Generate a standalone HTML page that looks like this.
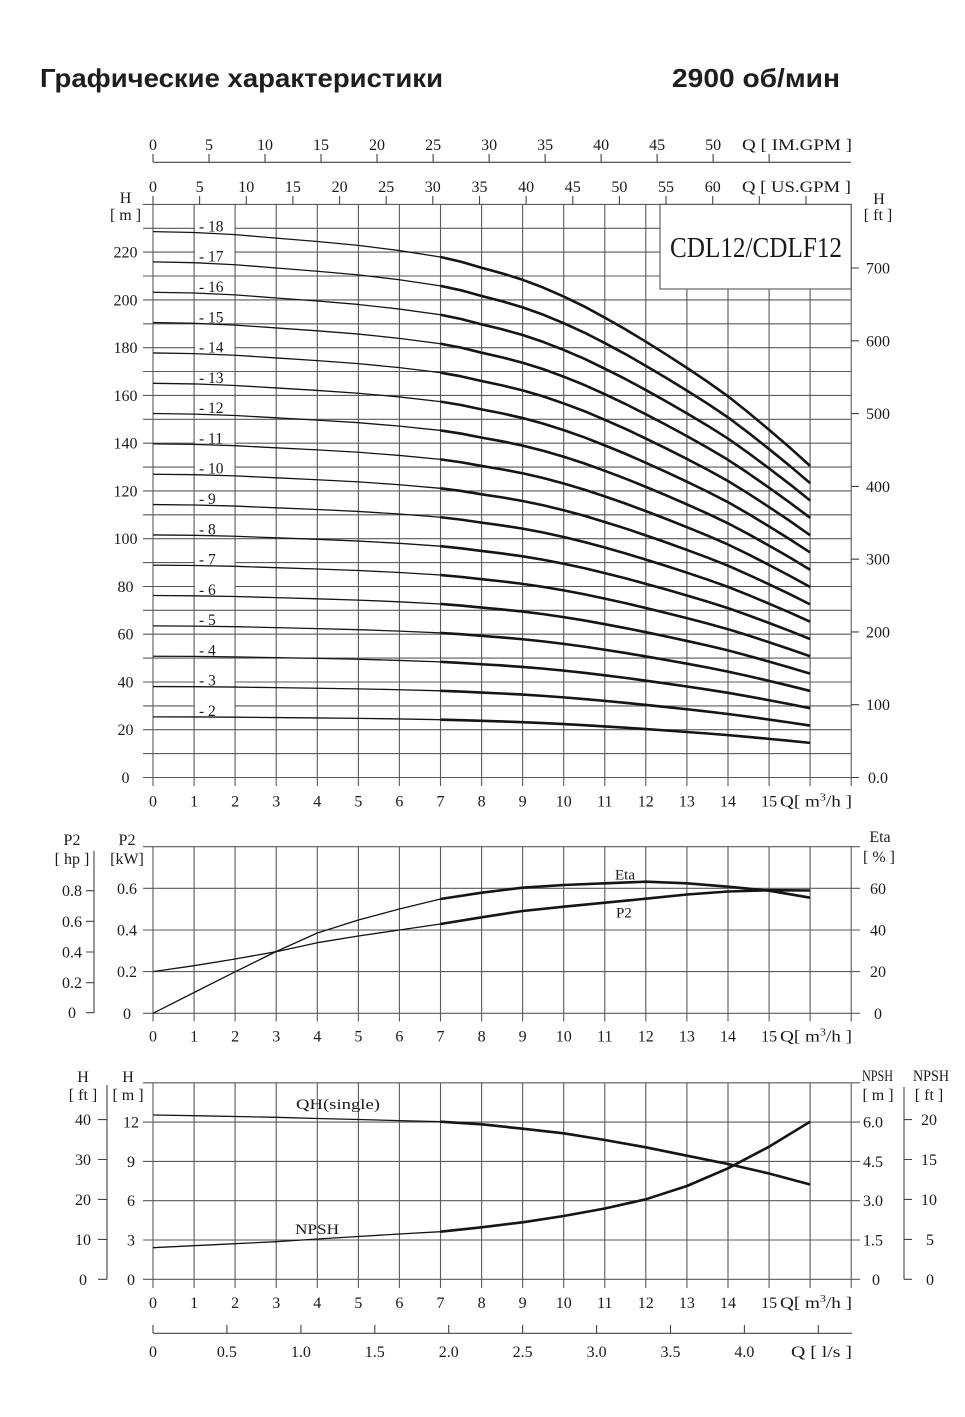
<!DOCTYPE html>
<html><head><meta charset="utf-8"><style>
html,body{margin:0;padding:0;background:#fff;}
svg{display:block;}
.t{font-family:"Liberation Serif","DejaVu Serif",serif;font-size:16px;fill:#1a1a1a;}
.c{text-anchor:middle;}
.e{text-anchor:end;}
.g{stroke:#5a5a5a;stroke-width:1.1;fill:none;}
.a{stroke:#444;stroke-width:1.1;fill:none;}
.thin{stroke:#151515;stroke-width:1.3;fill:none;stroke-linejoin:round;}
.thick{stroke:#151515;stroke-width:2.6;fill:none;stroke-linejoin:round;stroke-linecap:butt;}
.ttl{font-family:"Liberation Sans","DejaVu Sans",sans-serif;font-weight:bold;font-size:26px;fill:#1e1e1e;}
.sl{font-family:"Liberation Serif","DejaVu Serif",serif;font-size:15.5px;fill:#1a1a1a;}
</style></head><body>
<svg width="965" height="1417" viewBox="0 0 965 1417" xmlns="http://www.w3.org/2000/svg">
<rect width="965" height="1417" fill="#fff"/>
<text class="ttl" x="40" y="87" textLength="403" lengthAdjust="spacingAndGlyphs">Графические характеристики</text>
<text class="ttl" x="672" y="87" textLength="168" lengthAdjust="spacingAndGlyphs">2900 об/мин</text>

<!-- TOP AXES -->
<path class="a" d="M153 162.3H851M153 162.3V154M209 162.3V154M265 162.3V154M321 162.3V154M377 162.3V154M433.1 162.3V154M489.1 162.3V154M545.1 162.3V154M601.1 162.3V154M657.1 162.3V154M713.1 162.3V154M769.1 162.3V154"/>
<g class="t c">
<text x="153" y="150">0</text><text x="209" y="150">5</text><text x="265" y="150">10</text><text x="321" y="150">15</text><text x="377" y="150">20</text><text x="433.1" y="150">25</text><text x="489.1" y="150">30</text><text x="545.1" y="150">35</text><text x="601.1" y="150">40</text><text x="657.1" y="150">45</text><text x="713.1" y="150">50</text>
</g>
<text class="t" x="742" y="150" textLength="110" lengthAdjust="spacingAndGlyphs">Q [ IM.GPM ]</text>
<path class="a" d="M153 204.4V196M199.6 204.4V196M246.3 204.4V196M292.9 204.4V196M339.6 204.4V196M386.2 204.4V196M432.8 204.4V196M479.5 204.4V196M526.1 204.4V196M572.8 204.4V196M619.4 204.4V196M666 204.4V196M712.7 204.4V196M759.3 204.4V196M806 204.4V196"/>
<g class="t c">
<text x="153" y="192">0</text><text x="199.6" y="192">5</text><text x="246.3" y="192">10</text><text x="292.9" y="192">15</text><text x="339.6" y="192">20</text><text x="386.2" y="192">25</text><text x="432.8" y="192">30</text><text x="479.5" y="192">35</text><text x="526.1" y="192">40</text><text x="572.8" y="192">45</text><text x="619.4" y="192">50</text><text x="666" y="192">55</text><text x="712.7" y="192">60</text>
</g>
<text class="t" x="742" y="192" textLength="109" lengthAdjust="spacingAndGlyphs">Q [ US.GPM ]</text>

<!-- MAIN CHART GRID -->
<path class="g" d="M143 777.5H851M143 753.6H851M143 729.7H851M143 705.9H851M143 682H851M143 658.1H851M143 634.2H851M143 610.3H851M143 586.5H851M143 562.6H851M143 538.7H851M143 514.8H851M143 490.9H851M143 467.1H851M143 443.2H851M143 419.3H851M143 395.4H851M143 371.5H851M143 347.7H851M143 323.8H851M143 299.9H851M143 276H851M143 252.1H851M143 228.3H851M143 204.4H851"/>
<path class="g" d="M153 204.4V786M194.1 204.4V786M235.1 204.4V786M276.2 204.4V786M317.3 204.4V786M358.4 204.4V786M399.4 204.4V786M440.5 204.4V786M481.6 204.4V786M522.6 204.4V786M563.7 204.4V786M604.8 204.4V786M645.8 204.4V786M686.9 204.4V786M728 204.4V786M769.1 204.4V786M810.1 204.4V786M851.2 204.4V786"/>
<rect x="660" y="204.4" width="191.2" height="84.6" fill="#fff" stroke="#555" stroke-width="1.1"/>
<text x="756" y="257" font-family="Liberation Serif, serif" font-size="29" fill="#1a1a1a" text-anchor="middle" textLength="172" lengthAdjust="spacingAndGlyphs">CDL12/CDLF12</text>

<!-- right ft ticks -->
<path class="a" d="M851 777.5H859M851 704.7H859M851 631.9H859M851 559.2H859M851 486.4H859M851 413.6H859M851 340.8H859M851 268H859"/>
<g class="t c">
<text x="878" y="783">0.0</text><text x="878" y="710.2">100</text><text x="878" y="637.4">200</text><text x="878" y="564.7">300</text><text x="878" y="491.9">400</text><text x="878" y="419.1">500</text><text x="878" y="346.3">600</text><text x="878" y="273.5">700</text>
<text x="879" y="204">H</text><text x="878" y="220">[ ft ]</text>
<text x="125.5" y="203">H</text><text x="125.5" y="220">[ m ]</text>
<text x="125.5" y="783">0</text><text x="125.5" y="735.2">20</text><text x="125.5" y="687.5">40</text><text x="125.5" y="639.7">60</text><text x="125.5" y="592">80</text><text x="125.5" y="544.2">100</text><text x="125.5" y="496.4">120</text><text x="125.5" y="448.7">140</text><text x="125.5" y="400.9">160</text><text x="125.5" y="353.2">180</text><text x="125.5" y="305.4">200</text><text x="125.5" y="257.6">220</text>
</g>
<!-- x labels main -->
<g class="t c">
<text x="153" y="806.5">0</text><text x="194.1" y="806.5">1</text><text x="235.1" y="806.5">2</text><text x="276.2" y="806.5">3</text><text x="317.3" y="806.5">4</text><text x="358.4" y="806.5">5</text><text x="399.4" y="806.5">6</text><text x="440.5" y="806.5">7</text><text x="481.6" y="806.5">8</text><text x="522.6" y="806.5">9</text><text x="563.7" y="806.5">10</text><text x="604.8" y="806.5">11</text><text x="645.8" y="806.5">12</text><text x="686.9" y="806.5">13</text><text x="728" y="806.5">14</text><text x="769.1" y="806.5">15</text>
</g>
<text class="t" x="780" y="806.5" textLength="72" lengthAdjust="spacingAndGlyphs">Q[ m<tspan font-size="10" dy="-6">3</tspan><tspan dy="6">/h ]</tspan></text>

<!-- stage labels -->
<g fill="#fff">
<rect x="195" y="220.5" width="39.5" height="11"/><rect x="195" y="250.7" width="39.5" height="11"/><rect x="195" y="281" width="39.5" height="11"/><rect x="195" y="311.3" width="39.5" height="11"/><rect x="195" y="341.6" width="39.5" height="11"/><rect x="195" y="371.9" width="39.5" height="11"/><rect x="195" y="402.1" width="39.5" height="11"/><rect x="195" y="432.4" width="39.5" height="11"/><rect x="195" y="462.7" width="39.5" height="11"/><rect x="195" y="493" width="39.5" height="11"/><rect x="195" y="523.3" width="39.5" height="11"/><rect x="195" y="553.5" width="39.5" height="11"/><rect x="195" y="583.8" width="39.5" height="11"/><rect x="195" y="614.1" width="39.5" height="11"/><rect x="195" y="644.4" width="39.5" height="11"/><rect x="195" y="674.7" width="39.5" height="11"/><rect x="195" y="704.9" width="39.5" height="11"/>
</g>
<g class="sl">
<text x="199" y="231.5">- 18</text><text x="199" y="261.7">- 17</text><text x="199" y="292">- 16</text><text x="199" y="322.3">- 15</text><text x="199" y="352.6">- 14</text><text x="199" y="382.9">- 13</text><text x="199" y="413.1">- 12</text><text x="199" y="443.4">- 11</text><text x="199" y="473.7">- 10</text><text x="199" y="504">- 9</text><text x="199" y="534.3">- 8</text><text x="199" y="564.5">- 7</text><text x="199" y="594.8">- 6</text><text x="199" y="625.1">- 5</text><text x="199" y="655.4">- 4</text><text x="199" y="685.7">- 3</text><text x="199" y="715.9">- 2</text>
</g>

<!-- stage curves -->
<g>
<g transform="translate(153 777.5) scale(41.07 -42.98)"><path class="thin" vector-effect="non-scaling-stroke" d="M0 12.7L1 12.68L2 12.63L3 12.55L4 12.47L5 12.38L6 12.26L7 12.11"/><path class="thick" vector-effect="non-scaling-stroke" d="M7 12.11L7.5 12L8 11.86L8.5 11.73L9 11.58L9.5 11.4L10 11.19L10.5 10.96L11 10.7L11.5 10.43L12 10.14L12.5 9.84L13 9.53L13.5 9.21L14 8.87L14.5 8.49L15 8.09L15.5 7.68L16 7.25"/></g>
<g transform="translate(153 777.5) scale(41.07 -40.60)"><path class="thin" vector-effect="non-scaling-stroke" d="M0 12.7L1 12.68L2 12.63L3 12.55L4 12.47L5 12.38L6 12.26L7 12.11"/><path class="thick" vector-effect="non-scaling-stroke" d="M7 12.11L7.5 12L8 11.86L8.5 11.73L9 11.58L9.5 11.4L10 11.19L10.5 10.96L11 10.7L11.5 10.43L12 10.14L12.5 9.84L13 9.53L13.5 9.21L14 8.87L14.5 8.49L15 8.09L15.5 7.68L16 7.25"/></g>
<g transform="translate(153 777.5) scale(41.07 -38.21)"><path class="thin" vector-effect="non-scaling-stroke" d="M0 12.7L1 12.68L2 12.63L3 12.55L4 12.47L5 12.38L6 12.26L7 12.11"/><path class="thick" vector-effect="non-scaling-stroke" d="M7 12.11L7.5 12L8 11.86L8.5 11.73L9 11.58L9.5 11.4L10 11.19L10.5 10.96L11 10.7L11.5 10.43L12 10.14L12.5 9.84L13 9.53L13.5 9.21L14 8.87L14.5 8.49L15 8.09L15.5 7.68L16 7.25"/></g>
<g transform="translate(153 777.5) scale(41.07 -35.82)"><path class="thin" vector-effect="non-scaling-stroke" d="M0 12.7L1 12.68L2 12.63L3 12.55L4 12.47L5 12.38L6 12.26L7 12.11"/><path class="thick" vector-effect="non-scaling-stroke" d="M7 12.11L7.5 12L8 11.86L8.5 11.73L9 11.58L9.5 11.4L10 11.19L10.5 10.96L11 10.7L11.5 10.43L12 10.14L12.5 9.84L13 9.53L13.5 9.21L14 8.87L14.5 8.49L15 8.09L15.5 7.68L16 7.25"/></g>
<g transform="translate(153 777.5) scale(41.07 -33.43)"><path class="thin" vector-effect="non-scaling-stroke" d="M0 12.7L1 12.68L2 12.63L3 12.55L4 12.47L5 12.38L6 12.26L7 12.11"/><path class="thick" vector-effect="non-scaling-stroke" d="M7 12.11L7.5 12L8 11.86L8.5 11.73L9 11.58L9.5 11.4L10 11.19L10.5 10.96L11 10.7L11.5 10.43L12 10.14L12.5 9.84L13 9.53L13.5 9.21L14 8.87L14.5 8.49L15 8.09L15.5 7.68L16 7.25"/></g>
<g transform="translate(153 777.5) scale(41.07 -31.04)"><path class="thin" vector-effect="non-scaling-stroke" d="M0 12.7L1 12.68L2 12.63L3 12.55L4 12.47L5 12.38L6 12.26L7 12.11"/><path class="thick" vector-effect="non-scaling-stroke" d="M7 12.11L7.5 12L8 11.86L8.5 11.73L9 11.58L9.5 11.4L10 11.19L10.5 10.96L11 10.7L11.5 10.43L12 10.14L12.5 9.84L13 9.53L13.5 9.21L14 8.87L14.5 8.49L15 8.09L15.5 7.68L16 7.25"/></g>
<g transform="translate(153 777.5) scale(41.07 -28.66)"><path class="thin" vector-effect="non-scaling-stroke" d="M0 12.7L1 12.68L2 12.63L3 12.55L4 12.47L5 12.38L6 12.26L7 12.11"/><path class="thick" vector-effect="non-scaling-stroke" d="M7 12.11L7.5 12L8 11.86L8.5 11.73L9 11.58L9.5 11.4L10 11.19L10.5 10.96L11 10.7L11.5 10.43L12 10.14L12.5 9.84L13 9.53L13.5 9.21L14 8.87L14.5 8.49L15 8.09L15.5 7.68L16 7.25"/></g>
<g transform="translate(153 777.5) scale(41.07 -26.27)"><path class="thin" vector-effect="non-scaling-stroke" d="M0 12.7L1 12.68L2 12.63L3 12.55L4 12.47L5 12.38L6 12.26L7 12.11"/><path class="thick" vector-effect="non-scaling-stroke" d="M7 12.11L7.5 12L8 11.86L8.5 11.73L9 11.58L9.5 11.4L10 11.19L10.5 10.96L11 10.7L11.5 10.43L12 10.14L12.5 9.84L13 9.53L13.5 9.21L14 8.87L14.5 8.49L15 8.09L15.5 7.68L16 7.25"/></g>
<g transform="translate(153 777.5) scale(41.07 -23.88)"><path class="thin" vector-effect="non-scaling-stroke" d="M0 12.7L1 12.68L2 12.63L3 12.55L4 12.47L5 12.38L6 12.26L7 12.11"/><path class="thick" vector-effect="non-scaling-stroke" d="M7 12.11L7.5 12L8 11.86L8.5 11.73L9 11.58L9.5 11.4L10 11.19L10.5 10.96L11 10.7L11.5 10.43L12 10.14L12.5 9.84L13 9.53L13.5 9.21L14 8.87L14.5 8.49L15 8.09L15.5 7.68L16 7.25"/></g>
<g transform="translate(153 777.5) scale(41.07 -21.49)"><path class="thin" vector-effect="non-scaling-stroke" d="M0 12.7L1 12.68L2 12.63L3 12.55L4 12.47L5 12.38L6 12.26L7 12.11"/><path class="thick" vector-effect="non-scaling-stroke" d="M7 12.11L7.5 12L8 11.86L8.5 11.73L9 11.58L9.5 11.4L10 11.19L10.5 10.96L11 10.7L11.5 10.43L12 10.14L12.5 9.84L13 9.53L13.5 9.21L14 8.87L14.5 8.49L15 8.09L15.5 7.68L16 7.25"/></g>
<g transform="translate(153 777.5) scale(41.07 -19.10)"><path class="thin" vector-effect="non-scaling-stroke" d="M0 12.7L1 12.68L2 12.63L3 12.55L4 12.47L5 12.38L6 12.26L7 12.11"/><path class="thick" vector-effect="non-scaling-stroke" d="M7 12.11L7.5 12L8 11.86L8.5 11.73L9 11.58L9.5 11.4L10 11.19L10.5 10.96L11 10.7L11.5 10.43L12 10.14L12.5 9.84L13 9.53L13.5 9.21L14 8.87L14.5 8.49L15 8.09L15.5 7.68L16 7.25"/></g>
<g transform="translate(153 777.5) scale(41.07 -16.72)"><path class="thin" vector-effect="non-scaling-stroke" d="M0 12.7L1 12.68L2 12.63L3 12.55L4 12.47L5 12.38L6 12.26L7 12.11"/><path class="thick" vector-effect="non-scaling-stroke" d="M7 12.11L7.5 12L8 11.86L8.5 11.73L9 11.58L9.5 11.4L10 11.19L10.5 10.96L11 10.7L11.5 10.43L12 10.14L12.5 9.84L13 9.53L13.5 9.21L14 8.87L14.5 8.49L15 8.09L15.5 7.68L16 7.25"/></g>
<g transform="translate(153 777.5) scale(41.07 -14.33)"><path class="thin" vector-effect="non-scaling-stroke" d="M0 12.7L1 12.68L2 12.63L3 12.55L4 12.47L5 12.38L6 12.26L7 12.11"/><path class="thick" vector-effect="non-scaling-stroke" d="M7 12.11L7.5 12L8 11.86L8.5 11.73L9 11.58L9.5 11.4L10 11.19L10.5 10.96L11 10.7L11.5 10.43L12 10.14L12.5 9.84L13 9.53L13.5 9.21L14 8.87L14.5 8.49L15 8.09L15.5 7.68L16 7.25"/></g>
<g transform="translate(153 777.5) scale(41.07 -11.94)"><path class="thin" vector-effect="non-scaling-stroke" d="M0 12.7L1 12.68L2 12.63L3 12.55L4 12.47L5 12.38L6 12.26L7 12.11"/><path class="thick" vector-effect="non-scaling-stroke" d="M7 12.11L7.5 12L8 11.86L8.5 11.73L9 11.58L9.5 11.4L10 11.19L10.5 10.96L11 10.7L11.5 10.43L12 10.14L12.5 9.84L13 9.53L13.5 9.21L14 8.87L14.5 8.49L15 8.09L15.5 7.68L16 7.25"/></g>
<g transform="translate(153 777.5) scale(41.07 -9.55)"><path class="thin" vector-effect="non-scaling-stroke" d="M0 12.7L1 12.68L2 12.63L3 12.55L4 12.47L5 12.38L6 12.26L7 12.11"/><path class="thick" vector-effect="non-scaling-stroke" d="M7 12.11L7.5 12L8 11.86L8.5 11.73L9 11.58L9.5 11.4L10 11.19L10.5 10.96L11 10.7L11.5 10.43L12 10.14L12.5 9.84L13 9.53L13.5 9.21L14 8.87L14.5 8.49L15 8.09L15.5 7.68L16 7.25"/></g>
<g transform="translate(153 777.5) scale(41.07 -7.16)"><path class="thin" vector-effect="non-scaling-stroke" d="M0 12.7L1 12.68L2 12.63L3 12.55L4 12.47L5 12.38L6 12.26L7 12.11"/><path class="thick" vector-effect="non-scaling-stroke" d="M7 12.11L7.5 12L8 11.86L8.5 11.73L9 11.58L9.5 11.4L10 11.19L10.5 10.96L11 10.7L11.5 10.43L12 10.14L12.5 9.84L13 9.53L13.5 9.21L14 8.87L14.5 8.49L15 8.09L15.5 7.68L16 7.25"/></g>
<g transform="translate(153 777.5) scale(41.07 -4.776)"><path class="thin" vector-effect="non-scaling-stroke" d="M0 12.7L1 12.68L2 12.63L3 12.55L4 12.47L5 12.38L6 12.26L7 12.11"/><path class="thick" vector-effect="non-scaling-stroke" d="M7 12.11L7.5 12L8 11.86L8.5 11.73L9 11.58L9.5 11.4L10 11.19L10.5 10.96L11 10.7L11.5 10.43L12 10.14L12.5 9.84L13 9.53L13.5 9.21L14 8.87L14.5 8.49L15 8.09L15.5 7.68L16 7.25"/></g>
</g>

<!-- P2 / ETA CHART -->
<path class="g" d="M143 1013.3H860M143 971.6H860M143 930H860M143 888.3H860M143 846.7H860"/>
<path class="g" d="M153 846.7V1021.5M194.1 846.7V1021.5M235.1 846.7V1021.5M276.2 846.7V1021.5M317.3 846.7V1021.5M358.4 846.7V1021.5M399.4 846.7V1021.5M440.5 846.7V1021.5M481.6 846.7V1021.5M522.6 846.7V1021.5M563.7 846.7V1021.5M604.8 846.7V1021.5M645.8 846.7V1021.5M686.9 846.7V1021.5M728 846.7V1021.5M769.1 846.7V1021.5M810.1 846.7V1021.5M851.2 846.7V1021.5"/>
<path class="a" d="M94 851V1013M86 890.7H94M86 921.3H94M86 952H94M86 982.7H94M86 1012.7H94"/>
<g class="t c">
<text x="72" y="845">P2</text><text x="72" y="864">[ hp ]</text>
<text x="127" y="845">P2</text><text x="127" y="864">[kW]</text>
<text x="72" y="896.2">0.8</text><text x="72" y="926.8">0.6</text><text x="72" y="957.5">0.4</text><text x="72" y="988.2">0.2</text><text x="72" y="1018.2">0</text>
<text x="127" y="893.8">0.6</text><text x="127" y="935.5">0.4</text><text x="127" y="977.1">0.2</text><text x="127" y="1018.8">0</text>
<text x="880" y="842">Eta</text><text x="879" y="862">[ % ]</text>
<text x="878" y="893.8">60</text><text x="878" y="935.5">40</text><text x="878" y="977.1">20</text><text x="878" y="1018.8">0</text>
<text x="153" y="1041.5">0</text><text x="194.1" y="1041.5">1</text><text x="235.1" y="1041.5">2</text><text x="276.2" y="1041.5">3</text><text x="317.3" y="1041.5">4</text><text x="358.4" y="1041.5">5</text><text x="399.4" y="1041.5">6</text><text x="440.5" y="1041.5">7</text><text x="481.6" y="1041.5">8</text><text x="522.6" y="1041.5">9</text><text x="563.7" y="1041.5">10</text><text x="604.8" y="1041.5">11</text><text x="645.8" y="1041.5">12</text><text x="686.9" y="1041.5">13</text><text x="728" y="1041.5">14</text><text x="769.1" y="1041.5">15</text>
</g>
<text class="t" x="780" y="1041.5" textLength="72" lengthAdjust="spacingAndGlyphs">Q[ m<tspan font-size="10" dy="-6">3</tspan><tspan dy="6">/h ]</tspan></text>
<text class="t" x="615" y="879.5" style="font-size:15px">Eta</text>
<text class="t" x="616" y="917.5" style="font-size:15px">P2</text>
<path class="thin" d="M153 1013.3L194.1 992.5L235.1 971.8L276.2 951.5L317.3 933L358.4 920L399.4 909L440.5 899"/>
<path class="thick" d="M440.5 899L481.6 892.7L522.6 887.7L563.7 885L604.8 883.3L645.8 881.7L686.9 883.3L728 886.7L769.1 890.7L810.1 897.7"/>
<path class="thin" d="M153 971.6L194.1 965.7L235.1 959L276.2 951.7L317.3 942.7L358.4 936L399.4 930L440.5 924"/>
<path class="thick" d="M440.5 924L481.6 917.3L522.6 911L563.7 906.7L604.8 902.7L645.8 898.7L686.9 894.5L728 891.5L769.1 890.2L810.1 890.5"/>

<!-- BOTTOM CHART -->
<path class="g" d="M143 1279.3H860M143 1240H860M143 1200.7H860M143 1161.4H860M143 1122.1H860M143 1082.8H860"/>
<path class="g" d="M153 1082.8V1288M194.1 1082.8V1288M235.1 1082.8V1288M276.2 1082.8V1288M317.3 1082.8V1288M358.4 1082.8V1288M399.4 1082.8V1288M440.5 1082.8V1288M481.6 1082.8V1288M522.6 1082.8V1288M563.7 1082.8V1288M604.8 1082.8V1288M645.8 1082.8V1288M686.9 1082.8V1288M728 1082.8V1288M769.1 1082.8V1288M810.1 1082.8V1288M851.2 1082.8V1288"/>
<path class="a" d="M107 1085V1279.3M98 1119.6H107M98 1159.5H107M98 1199.4H107M98 1239.4H107M98 1279.3H107"/>
<path class="a" d="M904 1087V1279.3M904 1119.6H912M904 1159.5H912M904 1199.4H912M904 1239.4H912M904 1279.3H912"/>
<g class="t c">
<text x="83" y="1082">H</text><text x="83" y="1100">[ ft ]</text>
<text x="128" y="1082">H</text><text x="128" y="1100">[ m ]</text>
<text x="83" y="1125.1">40</text><text x="83" y="1165">30</text><text x="83" y="1204.9">20</text><text x="83" y="1244.9">10</text><text x="83" y="1284.8">0</text>
<text x="131" y="1127.6">12</text><text x="131" y="1166.9">9</text><text x="131" y="1206.2">6</text><text x="131" y="1245.5">3</text><text x="131" y="1284.8">0</text>
<text x="873" y="1127.6">6.0</text><text x="873" y="1166.9">4.5</text><text x="873" y="1206.2">3.0</text><text x="873" y="1245.5">1.5</text><text x="876" y="1284.8">0</text>
<text x="929" y="1125.1">20</text><text x="929" y="1165">15</text><text x="929" y="1204.9">10</text><text x="930" y="1244.9">5</text><text x="930" y="1284.8">0</text>
<text x="878" y="1100">[ m ]</text><text x="929" y="1100">[ ft ]</text>
<text x="153" y="1308">0</text><text x="194.1" y="1308">1</text><text x="235.1" y="1308">2</text><text x="276.2" y="1308">3</text><text x="317.3" y="1308">4</text><text x="358.4" y="1308">5</text><text x="399.4" y="1308">6</text><text x="440.5" y="1308">7</text><text x="481.6" y="1308">8</text><text x="522.6" y="1308">9</text><text x="563.7" y="1308">10</text><text x="604.8" y="1308">11</text><text x="645.8" y="1308">12</text><text x="686.9" y="1308">13</text><text x="728" y="1308">14</text><text x="769.1" y="1308">15</text>
</g>
<text class="t" x="862" y="1081" textLength="31" lengthAdjust="spacingAndGlyphs">NPSH</text>
<text class="t" x="913" y="1081" textLength="36" lengthAdjust="spacingAndGlyphs">NPSH</text>
<text class="t" x="780" y="1308" textLength="72" lengthAdjust="spacingAndGlyphs">Q[ m<tspan font-size="10" dy="-6">3</tspan><tspan dy="6">/h ]</tspan></text>
<text class="t" x="296" y="1109" style="font-size:15px" textLength="84" lengthAdjust="spacingAndGlyphs">QH(single)</text>
<text class="t" x="295" y="1234" style="font-size:15px" textLength="44" lengthAdjust="spacingAndGlyphs">NPSH</text>
<path class="thin" d="M153 1115L194.1 1115.7L235.1 1116.5L276.2 1117.3L317.3 1118.5L358.4 1119.5L399.4 1120.6L440.5 1121.7"/>
<path class="thick" d="M440.5 1121.7L481.6 1124.3L522.6 1128.7L563.7 1133.3L604.8 1140L645.8 1147.3L686.9 1155.7L728 1164L769.1 1173.5L810.1 1184.5"/>
<path class="thin" d="M153 1247.7L194.1 1245.7L235.1 1243.7L276.2 1241.7L317.3 1239L358.4 1236.5L399.4 1234L440.5 1231.7"/>
<path class="thick" d="M440.5 1231.7L481.6 1227.3L522.6 1222.3L563.7 1216L604.8 1208.5L645.8 1199.3L686.9 1186L728 1168.3L769.1 1146.7L810.1 1121.7"/>

<!-- l/s axis -->
<path class="a" d="M153 1333.3H852M153 1333.3V1325M226.9 1333.3V1325M300.9 1333.3V1325M374.8 1333.3V1325M448.7 1333.3V1325M522.6 1333.3V1325M596.6 1333.3V1325M670.5 1333.3V1325M744.4 1333.3V1325M818.3 1333.3V1325"/>
<g class="t c">
<text x="153" y="1357">0</text><text x="226.9" y="1357">0.5</text><text x="300.9" y="1357">1.0</text><text x="374.8" y="1357">1.5</text><text x="448.7" y="1357">2.0</text><text x="522.6" y="1357">2.5</text><text x="596.6" y="1357">3.0</text><text x="670.5" y="1357">3.5</text><text x="744.4" y="1357">4.0</text>
</g>
<text class="t" x="791" y="1357" textLength="61" lengthAdjust="spacingAndGlyphs">Q [ l/s ]</text>
</svg>
</body></html>
